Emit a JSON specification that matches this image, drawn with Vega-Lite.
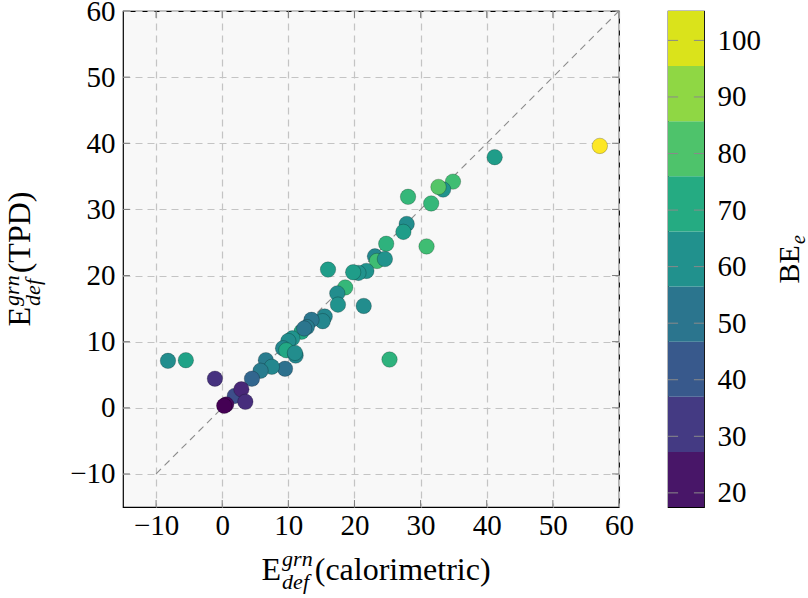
{
  "$schema": "https://vega.github.io/schema/vega-lite/v6.json",
  "autosize": {"type": "none"},
  "padding": {"left": 123, "top": 11, "right": 685, "bottom": 91},
  "background": "white",
  "config": {
    "font": "'Liberation Serif', 'DejaVu Serif', serif",
    "view": {"stroke": "black", "strokeWidth": 1.2, "fill": "#f8f8f8"},
    "axis": {"labelFont": "'Liberation Serif', 'DejaVu Serif', serif", "labelFontSize": 29, "labelColor": "black", "labelFlush": false, "labelOverlap": false},
    "text": {"font": "'Liberation Serif', 'DejaVu Serif', serif", "color": "black", "align": "left", "baseline": "alphabetic"}
  },
  "datasets": {
    "points": [
      {"calorimetric": 57.1, "tpd": 39.6, "be": 105.2},
      {"calorimetric": 41.2, "tpd": 37.9, "be": 66},
      {"calorimetric": 34.9, "tpd": 34.2, "be": 78},
      {"calorimetric": 33.4, "tpd": 33.0, "be": 62},
      {"calorimetric": 32.7, "tpd": 33.4, "be": 82},
      {"calorimetric": 28.1, "tpd": 31.9, "be": 76},
      {"calorimetric": 31.6, "tpd": 30.9, "be": 76},
      {"calorimetric": 27.9, "tpd": 27.8, "be": 60},
      {"calorimetric": 27.4, "tpd": 26.6, "be": 66},
      {"calorimetric": 30.9, "tpd": 24.4, "be": 78},
      {"calorimetric": 24.8, "tpd": 24.8, "be": 74},
      {"calorimetric": 23.1, "tpd": 22.9, "be": 58},
      {"calorimetric": 23.4, "tpd": 22.2, "be": 78},
      {"calorimetric": 24.6, "tpd": 22.5, "be": 62},
      {"calorimetric": 21.8, "tpd": 20.7, "be": 62},
      {"calorimetric": 20.6, "tpd": 20.4, "be": 62},
      {"calorimetric": 19.8, "tpd": 20.5, "be": 66},
      {"calorimetric": 16.0, "tpd": 20.9, "be": 66},
      {"calorimetric": 18.6, "tpd": 18.2, "be": 76},
      {"calorimetric": 17.4, "tpd": 17.3, "be": 60},
      {"calorimetric": 17.5, "tpd": 15.6, "be": 62},
      {"calorimetric": 21.4, "tpd": 15.4, "be": 60},
      {"calorimetric": 15.5, "tpd": 13.8, "be": 58},
      {"calorimetric": 15.2, "tpd": 13.1, "be": 58},
      {"calorimetric": 13.5, "tpd": 13.3, "be": 52},
      {"calorimetric": 12.8, "tpd": 12.2, "be": 54},
      {"calorimetric": 12.0, "tpd": 11.5, "be": 70},
      {"calorimetric": 12.4, "tpd": 12.0, "be": 52},
      {"calorimetric": 10.6, "tpd": 10.5, "be": 62},
      {"calorimetric": 10.0, "tpd": 10.1, "be": 60},
      {"calorimetric": 9.2, "tpd": 9.0, "be": 58},
      {"calorimetric": 9.7, "tpd": 8.7, "be": 70},
      {"calorimetric": 11.1, "tpd": 7.9, "be": 58},
      {"calorimetric": 11.0, "tpd": 8.3, "be": 60},
      {"calorimetric": 9.5, "tpd": 5.9, "be": 50},
      {"calorimetric": 6.6, "tpd": 7.2, "be": 54},
      {"calorimetric": 7.5, "tpd": 6.2, "be": 58},
      {"calorimetric": 5.8, "tpd": 5.6, "be": 54},
      {"calorimetric": 4.5, "tpd": 4.4, "be": 46},
      {"calorimetric": -8.2, "tpd": 7.1, "be": 60},
      {"calorimetric": -5.5, "tpd": 7.2, "be": 68},
      {"calorimetric": -1.1, "tpd": 4.4, "be": 30},
      {"calorimetric": 1.9, "tpd": 1.8, "be": 38},
      {"calorimetric": 2.9, "tpd": 2.8, "be": 27},
      {"calorimetric": 3.5, "tpd": 0.9, "be": 29},
      {"calorimetric": 0.6, "tpd": 0.5, "be": 19},
      {"calorimetric": 0.3, "tpd": 0.3, "be": 17.5},
      {"calorimetric": 25.3, "tpd": 7.3, "be": 74}
    ],
    "ticks": [{"t": -10}, {"t": 0}, {"t": 10}, {"t": 20}, {"t": 30}, {"t": 40}, {"t": 50}, {"t": 60}],
    "bands": [
      {"lo": 17.5, "hi": 27.24, "mid": 22.37},
      {"lo": 27.24, "hi": 36.99, "mid": 32.12},
      {"lo": 36.99, "hi": 46.73, "mid": 41.86},
      {"lo": 46.73, "hi": 56.48, "mid": 51.61},
      {"lo": 56.48, "hi": 66.22, "mid": 61.35},
      {"lo": 66.22, "hi": 75.96, "mid": 71.09},
      {"lo": 75.96, "hi": 85.71, "mid": 80.84},
      {"lo": 85.71, "hi": 95.46, "mid": 90.59},
      {"lo": 95.46, "hi": 105.2, "mid": 100.33}
    ],
    "cbticks": [{"v": 20}, {"v": 30}, {"v": 40}, {"v": 50}, {"v": 60}, {"v": 70}, {"v": 80}, {"v": 90}, {"v": 100}]
  },
  "bounds": "flush",
  "spacing": 49,
  "hconcat": [
    {
      "width": 496,
      "height": 496,
      "layer": [
        {
          "data": {"name": "ticks"},
          "mark": {"type": "rule", "color": "#7a7a7a", "strokeWidth": 1},
          "encoding": {
            "x": {"field": "t", "type": "quantitative", "title": null, "scale": {"domain": [-15, 60], "nice": false, "zero": false}},
            "y": {"datum": -15, "scale": {"domain": [-15, 60], "nice": false, "zero": false}},
            "y2": {"datum": -13.95}
          }
        },
        {
          "data": {"name": "ticks"},
          "mark": {"type": "rule", "color": "#7a7a7a", "strokeWidth": 1},
          "encoding": {
            "x": {"field": "t", "type": "quantitative", "title": null},
            "y": {"datum": 60},
            "y2": {"datum": 58.95}
          }
        },
        {
          "data": {"name": "ticks"},
          "mark": {"type": "rule", "color": "#7a7a7a", "strokeWidth": 1},
          "encoding": {
            "y": {"field": "t", "type": "quantitative", "title": null},
            "x": {"datum": -15},
            "x2": {"datum": -13.95}
          }
        },
        {
          "data": {"name": "ticks"},
          "mark": {"type": "rule", "color": "#7a7a7a", "strokeWidth": 1},
          "encoding": {
            "y": {"field": "t", "type": "quantitative", "title": null},
            "x": {"datum": 60},
            "x2": {"datum": 58.95}
          }
        },
        {
          "data": {"values": [{"c": -10, "t": -10}, {"c": 60, "t": 60}]},
          "mark": {"type": "line", "color": "#8c8c8c", "strokeWidth": 1.1, "strokeDash": [7, 5]},
          "encoding": {
            "x": {"field": "c", "type": "quantitative", "title": null},
            "y": {"field": "t", "type": "quantitative", "title": null}
          }
        },
        {
          "data": {"name": "points"},
          "mark": {"type": "circle", "size": 240, "opacity": 1, "stroke": "black", "strokeOpacity": 0.22, "strokeWidth": 1},
          "encoding": {
            "x": {
              "field": "calorimetric", "type": "quantitative", "title": null,
              "scale": {"domain": [-15, 60], "nice": false, "zero": false},
              "axis": {"values": [-10, 0, 10, 20, 30, 40, 50, 60], "grid": true, "gridDash": [7, 5], "gridColor": "#c4c4c4", "gridWidth": 1.2, "ticks": false, "domain": false, "labelPadding": 4}
            },
            "y": {
              "field": "tpd", "type": "quantitative", "title": null,
              "scale": {"domain": [-15, 60], "nice": false, "zero": false},
              "axis": {"values": [-10, 0, 10, 20, 30, 40, 50, 60], "grid": true, "gridDash": [7, 5], "gridColor": "#c4c4c4", "gridWidth": 1.2, "ticks": false, "domain": false, "labelPadding": 8}
            },
            "color": {"field": "be", "type": "quantitative", "scale": {"scheme": "viridis", "domain": [17.5, 105.2]}, "legend": null}
          }
        },
        {
          "data": {"values": [{}]},
          "mark": {"type": "text", "text": "E", "fontSize": 32},
          "encoding": {"x": {"datum": 5.94}, "y": {"datum": -26.04}}
        },
        {
          "data": {"values": [{}]},
          "mark": {"type": "text", "text": "grn", "fontStyle": "italic", "fontSize": 22},
          "encoding": {"x": {"datum": 9.06}, "y": {"datum": -23.85}}
        },
        {
          "data": {"values": [{}]},
          "mark": {"type": "text", "text": "def", "fontStyle": "italic", "fontSize": 22},
          "encoding": {"x": {"datum": 9.06}, "y": {"datum": -27.45}}
        },
        {
          "data": {"values": [{}]},
          "mark": {"type": "text", "text": "(calorimetric)", "fontSize": 32},
          "encoding": {"x": {"datum": 13.99}, "y": {"datum": -26.04}}
        },
        {
          "data": {"values": [{}]},
          "mark": {"type": "text", "text": "E", "fontSize": 32, "angle": 270},
          "encoding": {"x": {"datum": -28.99}, "y": {"datum": 12.29}}
        },
        {
          "data": {"values": [{}]},
          "mark": {"type": "text", "text": "grn", "fontStyle": "italic", "fontSize": 22, "angle": 270},
          "encoding": {"x": {"datum": -30.8}, "y": {"datum": 15.41}}
        },
        {
          "data": {"values": [{}]},
          "mark": {"type": "text", "text": "def", "fontStyle": "italic", "fontSize": 22, "angle": 270},
          "encoding": {"x": {"datum": -27.6}, "y": {"datum": 15.41}}
        },
        {
          "data": {"values": [{}]},
          "mark": {"type": "text", "text": "(TPD)", "fontSize": 32, "angle": 270},
          "encoding": {"x": {"datum": -28.99}, "y": {"datum": 20.34}}
        }
      ]
    },
    {
      "width": 36,
      "height": 496,
      "layer": [
        {
          "data": {"name": "bands"},
          "mark": {"type": "rect"},
          "encoding": {
            "x": {"datum": 0, "scale": {"domain": [0, 1], "nice": false, "zero": false}, "axis": null},
            "x2": {"datum": 1},
            "y": {
              "field": "lo", "type": "quantitative", "title": null,
              "scale": {"domain": [17.5, 105.2], "nice": false, "zero": false},
              "axis": {"orient": "right", "values": [20, 30, 40, 50, 60, 70, 80, 90, 100], "grid": false, "ticks": false, "domain": false, "labelPadding": 13}
            },
            "y2": {"field": "hi"},
            "color": {"field": "mid", "type": "quantitative", "scale": {"scheme": "viridis", "domain": [17.5, 105.2]}, "legend": null}
          }
        },
        {
          "data": {"name": "cbticks"},
          "mark": {"type": "rule", "color": "#8a8a8a", "strokeWidth": 1},
          "encoding": {
            "x": {"datum": 0},
            "x2": {"datum": 0.28},
            "y": {"field": "v", "type": "quantitative", "title": null}
          }
        },
        {
          "data": {"name": "cbticks"},
          "mark": {"type": "rule", "color": "#8a8a8a", "strokeWidth": 1},
          "encoding": {
            "x": {"datum": 0.72},
            "x2": {"datum": 1},
            "y": {"field": "v", "type": "quantitative", "title": null}
          }
        },
        {
          "data": {"values": [{}]},
          "mark": {"type": "text", "text": "BE", "fontSize": 30, "angle": 270},
          "encoding": {"x": {"datum": 3.64}, "y": {"datum": 57.0}}
        },
        {
          "data": {"values": [{}]},
          "mark": {"type": "text", "text": "e", "fontStyle": "italic", "fontSize": 20, "angle": 270},
          "encoding": {"x": {"datum": 3.81}, "y": {"datum": 64.0}}
        }
      ]
    }
  ]
}
